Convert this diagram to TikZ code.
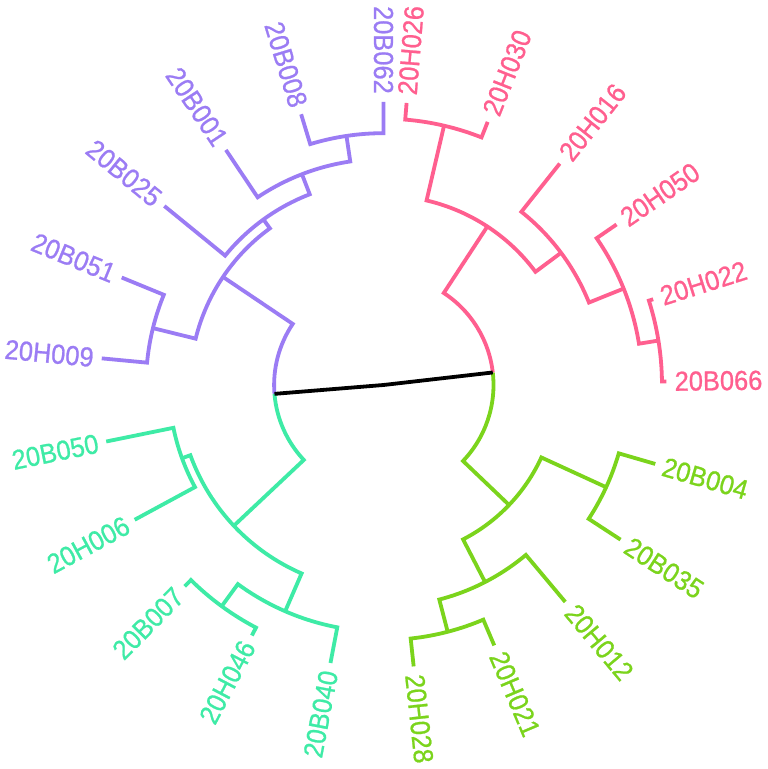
\documentclass[tikz,border=0pt]{standalone}
\usepackage{fontspec}
\setmainfont{Liberation Sans}[FakeStretch=0.925, FakeBold=0.8]
\definecolor{pu}{HTML}{9B7CF4}
\definecolor{cy}{HTML}{3EEBA6}
\definecolor{gr}{HTML}{7BD41C}
\definecolor{pk}{HTML}{FF5F8F}
\newcommand\clade[6]{\draw[branch,#1] (#2:#3) -- (#2:#6) arc[start angle=#2, end angle=#4, radius=#6] -- (#4:#5);}
\begin{document}
\begin{tikzpicture}[x=1pt,y=1pt,
  branch/.style={line width=3.8pt},
  lab/.style={font=\fontsize{27.5}{27.5}\selectfont, inner sep=0pt}]
\fill[white] (0,0) rectangle (768,769);
\useasboundingbox (0,0) rectangle (768,769);
\begin{scope}[shift={(383.5,384)}]
\coordinate (root) at (0,0);
% purple clade
\clade{pu}{90}{283}{106.92}{283}{251.8}
\clade{pu}{98.46}{251.8}{123.84}{283}{226}
\clade{pu}{111.15}{226}{140.76}{283}{204.5}
\clade{pu}{157.68}{283}{174.6}{283}{237.5}
\clade{pu}{125.955}{204.5}{166.14}{237.5}{193.5}
\draw[branch,pu] (146.05:193.5) -- (146.05:109.4) arc[start angle=146.05, end angle=184.65, radius=109.4];
% cyan clade
\clade{cy}{191.52}{283}{208.44}{283}{214.4}
\clade{cy}{225.36}{283}{242.28}{283}{274.1}
\clade{cy}{233.82}{274.1}{259.2}{283}{246.7}
\clade{cy}{199.98}{214.4}{246.51}{246.7}{205.5}
\draw[branch,cy] (184.65:109.4) arc[start angle=184.65, end angle=223.245, radius=109.4] -- (223.245:205.5);
% green clade
\clade{gr}{276.12}{283}{293.04}{283}{255}
\clade{gr}{284.58}{255}{309.96}{283}{221.7}
\clade{gr}{326.88}{283}{343.8}{283}{245}
\clade{gr}{297.27}{221.7}{335.34}{245}{173.7}
\draw[branch,gr] (316.305:173.7) -- (316.305:110) arc[start angle=316.305, end angle=366.54, radius=110];
% pink clade
\clade{pk}{360.72}{283}{377.64}{283}{278.5}
\clade{pk}{369.18}{278.5}{394.56}{283}{258.8}
\clade{pk}{381.87}{258.8}{411.48}{283}{221.4}
\clade{pk}{428.4}{283}{445.32}{283}{266.3}
\clade{pk}{396.675}{221.4}{436.86}{266.3}{189.5}
\draw[branch,pk] (366.54:110) arc[start angle=366.54, end angle=416.77, radius=110] -- (416.77:189.5);
% root
\coordinate (lchild) at (184.65:109.4);
\coordinate (rchild) at (366.54:110);
\draw[branch,black] (lchild) -- (root) -- (rchild);
% tip labels
\foreach \i/\lab/\col in {0/20B062/pu,1/20B008/pu,2/20B001/pu,3/20B025/pu,4/20B051/pu,5/20H009/pu,
  6/20B050/cy,7/20H006/cy,8/20B007/cy,9/20H046/cy,10/20B040/cy,
  11/20H028/gr,12/20H021/gr,13/20H012/gr,14/20B035/gr,15/20B004/gr,
  16/20B066/pk,17/20H022/pk,18/20H050/pk,19/20H016/pk,20/20H030/pk,21/20H026/pk}{
  \pgfmathsetmacro\ang{90+16.92*\i}
  \pgfmathtruncatemacro\side{(\ang>89.9 && \ang<270) ? 1 : 0}
  \ifnum\side=1
    \node[lab,text=\col,rotate=\ang-180,anchor=east] (t\i) at (\ang:291) {\lab};
  \else
    \node[lab,text=\col,rotate=\ang,anchor=west] (t\i) at (\ang:291) {\lab};
  \fi
}
\end{scope}
\end{tikzpicture}
\end{document}
